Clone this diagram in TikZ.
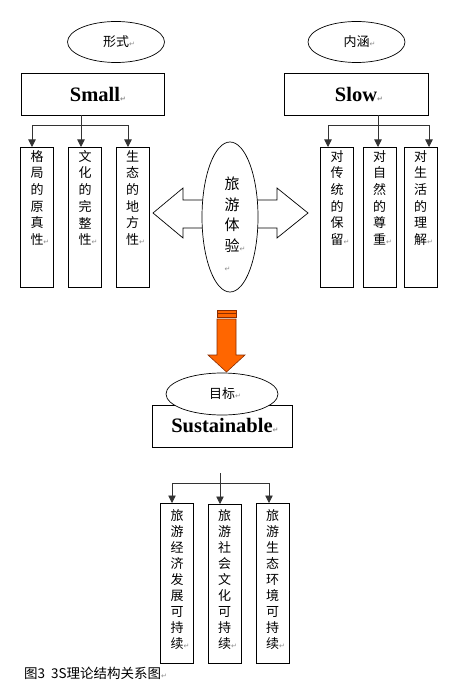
\documentclass[tikz,border=0pt]{standalone}
\usepackage{fontspec}
\setmainfont{Liberation Serif}
\newfontfamily\cjk{Noto Sans CJK SC}
\newfontfamily\symfont{DejaVu Sans}
\usetikzlibrary{positioning,shapes.geometric,arrows.meta}
\definecolor{arrowfill}{RGB}{255,102,0}
\definecolor{arrowedge}{RGB}{140,45,0}
\newcommand{\retmark}{{\symfont\fontsize{7}{7}\selectfont\color{black!45}↵}}

\begin{document}
\begin{tikzpicture}[x=1pt, y=-1pt,
        oval/.style={draw, ellipse, fill=white, line width=0.7pt, inner sep=0pt,
            font=\cjk\fontsize{13}{16}\selectfont},
        title/.style={draw, fill=white, line width=0.9pt, inner sep=0pt,
            minimum height=42pt, font=\bfseries\fontsize{20.5}{24}\selectfont},
        column/.style={draw, anchor=north, line width=0.9pt, minimum width=33pt, inner sep=0pt},
        coltext/.style={anchor=north, align=center, inner sep=0pt,
            font=\cjk\fontsize{13}{16.7}\selectfont},
        link/.style={draw=black!80, line width=0.8pt},
        arr/.style={link, -{Triangle[width=7.5pt,length=7.5pt]}},
        hollow/.style={draw, line width=0.7pt, fill=white},
        goalarrow/.style={draw=arrowedge, fill=arrowfill, line width=0.6pt}]
    \useasboundingbox (0,0) rectangle (460,692);

    \node[oval, minimum width=97pt, minimum height=41pt] (form) at (116,42) {形式\rlap{\retmark}};
    \node[title, minimum width=143pt] (small) at (92.5,94) {\hspace{5pt}Small\rlap{\retmark}};
    \node[column, minimum height=140pt] (pattern) at (37,147) {};
    \node[column, minimum height=140pt] (culture) at (85,147) {};
    \node[column, minimum height=140pt] (ecology) at (132.5,147) {};
    \node[coltext, below=3pt of pattern.north] (patterntext) {格\\局\\的\\原\\真\\性\rlap{\retmark}};
    \node[coltext, below=3pt of culture.north] (culturetext) {文\\化\\的\\完\\整\\性\rlap{\retmark}};
    \node[coltext, below=3pt of ecology.north] (ecologytext) {生\\态\\的\\地\\方\\性\rlap{\retmark}};
    \coordinate (smalljoint) at (81,125);
    \draw[link] (smalljoint |- small.south) -- (smalljoint);
    \draw[arr] (smalljoint) -| ([xshift=-5pt]pattern.north);
    \draw[arr] (smalljoint) -- (smalljoint |- culture.north);
    \draw[arr] (smalljoint) -| ([xshift=-4.5pt]ecology.north);

    \node[oval, minimum width=97pt, minimum height=41pt] (meaning) at (356.5,42) {内涵\rlap{\retmark}};
    \node[title, minimum width=144pt] (slow) at (356,94) {Slow\rlap{\retmark}};
    \node[column, minimum height=140pt] (tradition) at (337,147) {};
    \node[column, minimum height=140pt] (nature) at (379.5,147) {};
    \node[column, minimum height=140pt] (life) at (420.5,147) {};
    \node[coltext, below=3pt of tradition.north] (traditiontext) {对\\传\\统\\的\\保\\留\rlap{\retmark}};
    \node[coltext, below=3pt of nature.north] (naturetext) {对\\自\\然\\的\\尊\\重\rlap{\retmark}};
    \node[coltext, below=3pt of life.north] (lifetext) {对\\生\\活\\的\\理\\解\rlap{\retmark}};
    \coordinate (slowjoint) at (378,125);
    \draw[link] (slowjoint |- slow.south) -- (slowjoint);
    \draw[arr] (slowjoint) -| ([xshift=-9pt]tradition.north);
    \draw[arr] (slowjoint) -- (slowjoint |- nature.north);
    \draw[arr] (slowjoint) -| ([xshift=8.5pt]life.north);

    \draw[hollow] (212,200) -- (183,200) -- (183,188) -- (153,213) -- (183,238) -- (183,228) -- (212,228);
    \draw[hollow] (248,200) -- (277,200) -- (277,188) -- (308,213) -- (277,238) -- (277,228) -- (248,228);
    \node[oval, minimum width=56pt, minimum height=150pt] (travel) at (230,217) {};
    \node[anchor=north, align=center, inner sep=0pt, font=\cjk\fontsize{15}{20.5}\selectfont]
        (traveltext) at (232,177) {旅\\游\\体\\验\rlap{\retmark}\\\makebox[15pt][l]{\retmark}};

    \draw[goalarrow] (217,310) rectangle (236,313.5);
    \draw[goalarrow] (217,313.5) rectangle (236,317);
    \draw[goalarrow] (217,319) -- (236,319) -- (236,355) -- (245,355) -- (226.5,372)
        -- (208,355) -- (217,355) -- cycle;

    \node[title, minimum width=140pt] (sustain) at (222,426) {Sustainable\rlap{\retmark}};
    \node[oval, minimum width=112pt, minimum height=42pt] (goal) at (222,394) {目标\rlap{\retmark}};
    \node[column, minimum height=160pt] (economy) at (177,503) {};
    \node[column, minimum height=159pt] (society) at (224.5,504) {};
    \node[column, minimum height=160pt] (environment) at (272.5,503) {};
    \node[coltext, font=\cjk\fontsize{13}{16}\selectfont, below=6.5pt of economy.north]
        (economytext) {旅\\游\\经\\济\\发\\展\\可\\持\\续\rlap{\retmark}};
    \node[coltext, font=\cjk\fontsize{13}{16}\selectfont, below=5.5pt of society.north]
        (societytext) {旅\\游\\社\\会\\文\\化\\可\\持\\续\rlap{\retmark}};
    \node[coltext, font=\cjk\fontsize{13}{16}\selectfont, below=6.5pt of environment.north]
        (environmenttext) {旅\\游\\生\\态\\环\\境\\可\\持\\续\rlap{\retmark}};
    \coordinate (sustaintop) at (220,473);
    \coordinate (sustainjoint) at (220,483);
    \draw[link] (sustaintop) -- (sustainjoint);
    \draw[arr] (sustainjoint) -| ([xshift=-5pt]economy.north);
    \draw[arr] (sustainjoint) -- (sustainjoint |- society.north);
    \draw[arr] (sustainjoint) -| ([xshift=-3.5pt]environment.north);

    \node[anchor=west, inner sep=0pt, font=\cjk\fontsize{13.5}{16}\selectfont]
        (caption) at (24,673) {图3\hspace{6pt}3S理论结构关系图\rlap{\retmark}};
\end{tikzpicture}
\end{document}
